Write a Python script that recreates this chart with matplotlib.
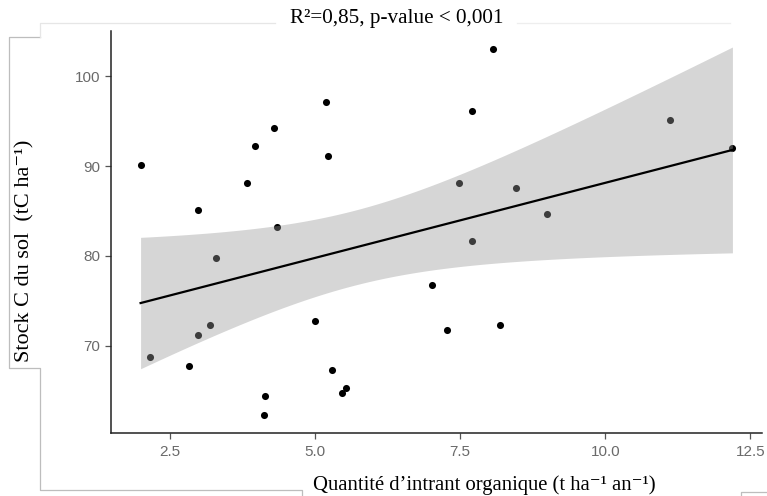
import numpy as np
import matplotlib
matplotlib.use("Agg")
import matplotlib.pyplot as plt
from matplotlib.lines import Line2D

# Data
intrant = [2.00, 2.99, 3.83, 3.97, 4.29, 5.20, 5.23, 4.35, 8.06, 7.70,
           11.11, 12.19, 7.49, 8.46, 9.00, 7.70, 3.30, 2.16, 2.99, 3.19,
           2.83, 5.01, 5.30, 5.54, 5.47, 4.15, 4.13, 7.02, 7.27, 8.19]
stock_c = [90.1, 85.1, 88.1, 92.2, 94.2, 97.1, 91.1, 83.2, 103.0, 96.1,
           95.1, 92.0, 88.1, 87.5, 84.7, 81.6, 79.8, 68.7, 71.2, 72.3,
           67.7, 72.7, 67.3, 65.3, 64.7, 64.4, 62.3, 76.8, 71.7, 72.3]
x_ticks = [2.5, 5.0, 7.5, 10.0, 12.5]
x_tick_labels = ["2.5", "5.0", "7.5", "10.0", "12.5"]
y_ticks = [70, 80, 90, 100]
y_tick_labels = ["70", "80", "90", "100"]
title_text = "R²=0,85, p-value < 0,001"
xlabel_text = "Quantité d’intrant organique (t ha⁻¹ an⁻¹)"
ylabel_text = "Stock C du sol  (tC ha⁻¹)"

x = np.array(intrant)
y = np.array(stock_c)

# linear fit with 95% confidence band (t, df = n-2 = 28)
n = len(x)
slope, intercept = np.polyfit(x, y, 1)
resid = y - (intercept + slope * x)
s = np.sqrt(np.sum(resid ** 2) / (n - 2))
sxx = np.sum((x - x.mean()) ** 2)
t_val = 2.048
xs = np.linspace(x.min(), x.max(), 200)
ys = intercept + slope * xs
se = s * np.sqrt(1.0 / n + (xs - x.mean()) ** 2 / sxx)

W, H = 767, 496
fig = plt.figure(figsize=(W / 100, H / 100), dpi=100)
ax = fig.add_axes([111 / W, 1 - 433 / H, (762 - 111) / W, (433 - 31) / H])

ax.scatter(x, y, s=26, color="black", zorder=2, linewidths=0)
ax.fill_between(xs, ys - t_val * se, ys + t_val * se, color="#999999",
                alpha=0.4, linewidth=0, zorder=3)
ax.plot(xs, ys, color="black", lw=1.6, zorder=4)

xr = x.max() - x.min()
yr = y.max() - y.min()
ax.set_xlim(x.min() - 0.05 * xr, x.max() + 0.05 * xr)
ax.set_ylim(y.min() - 0.05 * yr, y.max() + 0.05 * yr)

ax.set_xticks(x_ticks)
ax.set_xticklabels(x_tick_labels)
ax.set_yticks(y_ticks)
ax.set_yticklabels(y_tick_labels)
for sp in ["top", "right"]:
    ax.spines[sp].set_visible(False)
for sp in ["left", "bottom"]:
    ax.spines[sp].set_linewidth(1.1)
    ax.spines[sp].set_color("#222222")
ax.tick_params(axis="both", length=4, width=0.9, color="#555555",
               labelcolor="#6a6a6a", labelsize=11)
ax.tick_params(axis="x", pad=5)
ax.tick_params(axis="y", pad=3.5)
for lab in ax.get_xticklabels() + ax.get_yticklabels():
    lab.set_fontfamily("Liberation Sans")

serif = ["Liberation Serif", "DejaVu Serif"]
fig.text(397 / W, 1 - 19 / H, title_text, ha="center", va="center",
         fontsize=15.2, family=serif)
fig.text(484 / W, 1 - 485 / H, xlabel_text, ha="center", va="center",
         fontsize=14.9, family=serif)
fig.text(25 / W, 1 - 251 / H, ylabel_text, ha="center", va="center",
         fontsize=16, family=serif, rotation=90)

# faint label-box outlines visible in the reference
def seg(xp, yp, c="#bdbdbd", lw=0.9):
    fig.add_artist(Line2D([v / W for v in xp], [1 - v / H for v in yp],
                          color=c, lw=lw, transform=fig.transFigure))

seg([40, 9, 9, 40, 40, 302, 302], [37, 37, 368, 368, 490, 490, 496])
seg([40, 40, 275], [37, 23, 23], c="#e6e6e6")
seg([517, 730], [23, 23], c="#eeeeee")
seg([767, 741, 741], [492, 492, 496])

fig.savefig("out.png", dpi=100)
